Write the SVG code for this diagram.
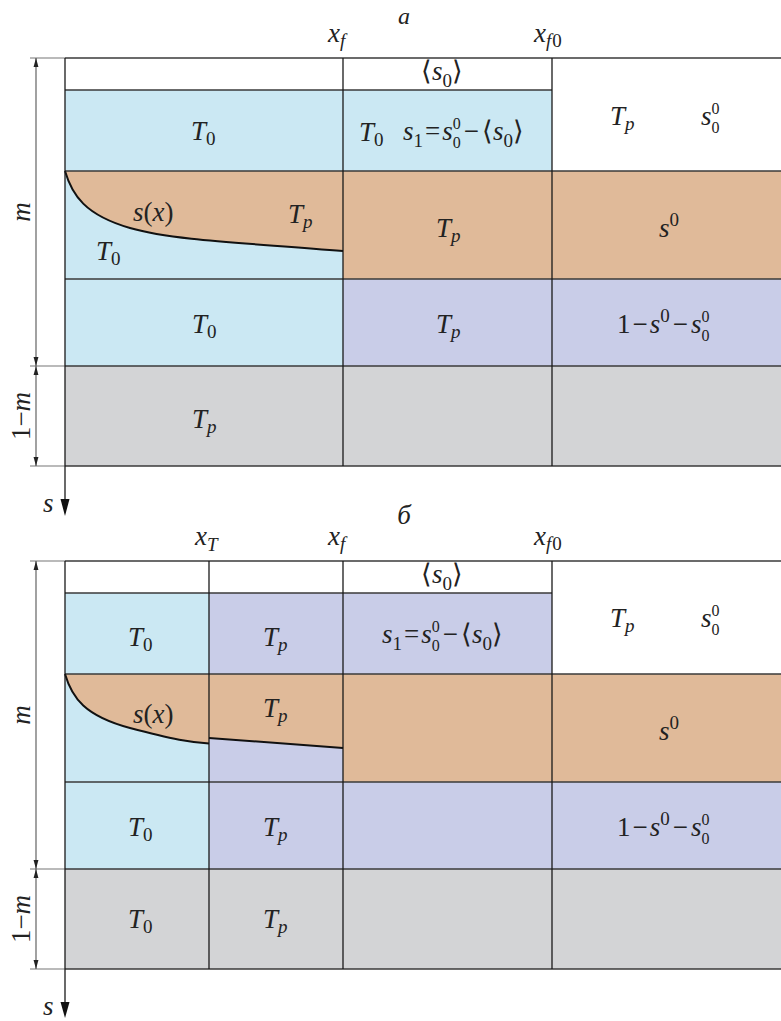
<svg xmlns="http://www.w3.org/2000/svg" width="781" height="1021" viewBox="0 0 781 1021">
<style>
.t{font-family:"Liberation Serif",serif;font-style:italic;font-size:27px;fill:#222}
.u{font-style:normal}
.sc{font-size:19px}
.ss{font-size:16px;font-style:normal}
.blue{fill:#CBE8F3}
.org{fill:#E0BA99}
.pur{fill:#C9CDE8}
.gry{fill:#D3D4D6}
.h{stroke:#3a3a3a;stroke-width:1.3;fill:none}
.ext{stroke:#777;stroke-width:1.2;fill:none}
.v{stroke:#1a1a1a;stroke-width:1.3;fill:none}
.dim{stroke:#555;stroke-width:1.1;fill:none;marker-start:url(#ah);marker-end:url(#ah)}
.crv{stroke:#111;stroke-width:2;fill:none}
</style>
<defs>
<marker id="ah" viewBox="0 0 10 10" refX="10" refY="5" markerWidth="9" markerHeight="9" markerUnits="userSpaceOnUse" orient="auto-start-reverse"><path d="M0,2.3 L10,5 L0,7.7 Z" fill="#222"/></marker>
</defs>

<!-- ================= PANEL A ================= -->
<g id="panel-a">
<g id="a-fills">
<rect class="blue" x="65" y="90" width="487" height="81"/>
<rect class="blue" x="65" y="171" width="278" height="108"/>
<path class="org" d="M65,171 C72,195 85,215 130,228 S250,243 343,251 L343,171 Z"/>
<rect class="org" x="343" y="171" width="438" height="108"/>
<rect class="blue" x="65" y="279" width="278" height="87"/>
<rect class="pur" x="343" y="279" width="438" height="87"/>
<rect class="gry" x="65" y="366" width="716" height="100"/>
</g>
<g id="a-grid">
<line class="ext" x1="30" y1="58" x2="65" y2="58"/>
<line class="h" x1="65" y1="58" x2="781" y2="58"/>
<line class="h" x1="65" y1="90" x2="552" y2="90"/>
<line class="h" x1="65" y1="171" x2="781" y2="171"/>
<line class="h" x1="65" y1="279" x2="781" y2="279"/>
<line class="ext" x1="30" y1="366" x2="65" y2="366"/>
<line class="h" x1="65" y1="366" x2="781" y2="366"/>
<line class="ext" x1="30" y1="466" x2="65" y2="466"/>
<line class="h" x1="65" y1="466" x2="781" y2="466"/>
<line class="v" x1="343" y1="58" x2="343" y2="466"/>
<line class="v" x1="552" y1="58" x2="552" y2="466"/>
</g>
<path id="a-curve" class="crv" d="M65,171 C72,195 85,215 130,228 S250,243 343,251"/>
<g id="a-connectors">
<line class="v" x1="65" y1="58" x2="65" y2="500"/>
<polygon points="60.5,499 69.5,499 65,516" fill="#111"/>
<line class="dim" x1="36" y1="58" x2="36" y2="366"/>
<line class="dim" x1="36" y1="366" x2="36" y2="466"/>
</g>
<g id="a-labels">
<text class="t" x="404" y="24" text-anchor="middle" style="font-size:24px">а</text>
<text class="t" x="328" y="42">x<tspan class="sc" dy="5">f</tspan></text>
<text class="t" x="534" y="42">x<tspan class="sc" dy="5">f</tspan><tspan class="sc u" dx="1">0</tspan></text>
<text class="t" transform="translate(30,212) rotate(-90)" text-anchor="middle">m</text>
<text class="t" transform="translate(30,416) rotate(-90)" text-anchor="middle"><tspan class="u">1−</tspan>m</text>
<text class="t" x="43" y="512">s</text>
</g>
<g id="a-node-s0mean"><text class="t" x="442" y="80" text-anchor="middle"><tspan class="u">⟨</tspan>s<tspan class="sc u" dy="7">0</tspan><tspan class="u" dy="-7">⟩</tspan></text></g>
<g id="a-node-T0-top"><text class="t" x="191" y="140">T<tspan class="sc u" dy="5">0</tspan></text></g>
<g id="a-node-T0-s1">
<text class="t" x="359" y="141">T<tspan class="sc u" dy="5">0</tspan></text>
<text class="t" x="403" y="140">s<tspan class="sc u" dy="7">1</tspan><tspan class="u" dx="2" dy="-7">=</tspan><tspan dx="2">s</tspan><tspan class="ss" dy="-11">0</tspan><tspan class="ss" dx="-8" dy="19">0</tspan><tspan class="u" dx="3" dy="-8">−</tspan><tspan class="u" dx="3">⟨</tspan>s<tspan class="sc u" dy="7">0</tspan><tspan class="u" dy="-7">⟩</tspan></text>
</g>
<g id="a-node-right-top">
<text class="t" x="610" y="125">T<tspan class="sc" dy="5">p</tspan></text>
<text class="t" x="701" y="125">s<tspan class="ss" dy="-11">0</tspan><tspan class="ss" dx="-8" dy="19">0</tspan></text>
</g>
<g id="a-node-front">
<text class="t" x="133" y="221">s<tspan class="u">(</tspan>x<tspan class="u">)</tspan></text>
<text class="t" x="288" y="223">T<tspan class="sc" dy="5">p</tspan></text>
<text class="t" x="96" y="260">T<tspan class="sc u" dy="5">0</tspan></text>
</g>
<g id="a-node-Tp-mid"><text class="t" x="436" y="237">T<tspan class="sc" dy="5">p</tspan></text></g>
<g id="a-node-s0-right"><text class="t" x="659" y="237">s<tspan class="sc u" dy="-11">0</tspan></text></g>
<g id="a-node-T0-row3"><text class="t" x="192" y="333">T<tspan class="sc u" dy="5">0</tspan></text></g>
<g id="a-node-Tp-row3"><text class="t" x="436" y="333">T<tspan class="sc" dy="5">p</tspan></text></g>
<g id="a-node-rest"><text class="t" x="617" y="333"><tspan class="u">1</tspan><tspan class="u" dx="2">−</tspan><tspan dx="2">s</tspan><tspan class="sc u" dy="-11">0</tspan><tspan class="u" dx="3" dy="11">−</tspan><tspan dx="3">s</tspan><tspan class="ss" dy="-11">0</tspan><tspan class="ss" dx="-8" dy="19">0</tspan></text></g>
<g id="a-node-Tp-gray"><text class="t" x="192" y="428">T<tspan class="sc" dy="5">p</tspan></text></g>
</g>

<!-- ================= PANEL B ================= -->
<g id="panel-b">
<g id="b-fills">
<rect class="blue" x="65" y="593" width="144" height="81"/>
<rect class="pur" x="209" y="593" width="343" height="81"/>
<rect class="blue" x="65" y="674" width="144" height="108"/>
<path class="org" d="M65,674 C72,698 85,716 130,728 S190,742 209,743.5 L209,674 Z"/>
<rect class="pur" x="209" y="674" width="134" height="108"/>
<path class="org" d="M209,674 L209,738 L343,748 L343,674 Z"/>
<rect class="org" x="343" y="674" width="438" height="108"/>
<rect class="blue" x="65" y="782" width="144" height="87"/>
<rect class="pur" x="209" y="782" width="572" height="87"/>
<rect class="gry" x="65" y="869" width="716" height="100"/>
</g>
<g id="b-grid">
<line class="ext" x1="30" y1="561" x2="65" y2="561"/>
<line class="h" x1="65" y1="561" x2="781" y2="561"/>
<line class="h" x1="65" y1="593" x2="552" y2="593"/>
<line class="h" x1="65" y1="674" x2="781" y2="674"/>
<line class="h" x1="65" y1="782" x2="781" y2="782"/>
<line class="ext" x1="30" y1="869" x2="65" y2="869"/>
<line class="h" x1="65" y1="869" x2="781" y2="869"/>
<line class="ext" x1="30" y1="969" x2="65" y2="969"/>
<line class="h" x1="65" y1="969" x2="781" y2="969"/>
<line class="v" x1="209" y1="561" x2="209" y2="969"/>
<line class="v" x1="343" y1="561" x2="343" y2="969"/>
<line class="v" x1="552" y1="561" x2="552" y2="969"/>
</g>
<path id="b-curve" class="crv" d="M65,674 C72,698 85,716 130,728 S190,742 209,743.5"/>
<path id="b-line" class="crv" d="M209,738 L343,748"/>
<g id="b-connectors">
<line class="v" x1="65" y1="561" x2="65" y2="1003"/>
<polygon points="60.5,1002 69.5,1002 65,1018" fill="#111"/>
<line class="dim" x1="36" y1="561" x2="36" y2="869"/>
<line class="dim" x1="36" y1="869" x2="36" y2="969"/>
</g>
<g id="b-labels">
<text class="t" x="404" y="524" text-anchor="middle">б</text>
<text class="t" x="195" y="545">x<tspan class="sc" dy="6">T</tspan></text>
<text class="t" x="328" y="545">x<tspan class="sc" dy="5">f</tspan></text>
<text class="t" x="534" y="545">x<tspan class="sc" dy="5">f</tspan><tspan class="sc u" dx="1">0</tspan></text>
<text class="t" transform="translate(30,715) rotate(-90)" text-anchor="middle">m</text>
<text class="t" transform="translate(30,919) rotate(-90)" text-anchor="middle"><tspan class="u">1−</tspan>m</text>
<text class="t" x="43" y="1015">s</text>
</g>
<g id="b-node-s0mean"><text class="t" x="442" y="583" text-anchor="middle"><tspan class="u">⟨</tspan>s<tspan class="sc u" dy="7">0</tspan><tspan class="u" dy="-7">⟩</tspan></text></g>
<g id="b-node-T0-top"><text class="t" x="128" y="646">T<tspan class="sc u" dy="5">0</tspan></text></g>
<g id="b-node-Tp-top"><text class="t" x="263" y="646">T<tspan class="sc" dy="5">p</tspan></text></g>
<g id="b-node-s1"><text class="t" x="382" y="643">s<tspan class="sc u" dy="7">1</tspan><tspan class="u" dx="2" dy="-7">=</tspan><tspan dx="2">s</tspan><tspan class="ss" dy="-11">0</tspan><tspan class="ss" dx="-8" dy="19">0</tspan><tspan class="u" dx="3" dy="-8">−</tspan><tspan class="u" dx="3">⟨</tspan>s<tspan class="sc u" dy="7">0</tspan><tspan class="u" dy="-7">⟩</tspan></text></g>
<g id="b-node-right-top">
<text class="t" x="610" y="627">T<tspan class="sc" dy="5">p</tspan></text>
<text class="t" x="701" y="627">s<tspan class="ss" dy="-11">0</tspan><tspan class="ss" dx="-8" dy="19">0</tspan></text>
</g>
<g id="b-node-front">
<text class="t" x="133" y="723">s<tspan class="u">(</tspan>x<tspan class="u">)</tspan></text>
<text class="t" x="263" y="717">T<tspan class="sc" dy="5">p</tspan></text>
</g>
<g id="b-node-s0-right"><text class="t" x="659" y="740">s<tspan class="sc u" dy="-11">0</tspan></text></g>
<g id="b-node-T0-row3"><text class="t" x="128" y="836">T<tspan class="sc u" dy="5">0</tspan></text></g>
<g id="b-node-Tp-row3"><text class="t" x="263" y="836">T<tspan class="sc" dy="5">p</tspan></text></g>
<g id="b-node-rest"><text class="t" x="617" y="836"><tspan class="u">1</tspan><tspan class="u" dx="2">−</tspan><tspan dx="2">s</tspan><tspan class="sc u" dy="-11">0</tspan><tspan class="u" dx="3" dy="11">−</tspan><tspan dx="3">s</tspan><tspan class="ss" dy="-11">0</tspan><tspan class="ss" dx="-8" dy="19">0</tspan></text></g>
<g id="b-node-T0-gray"><text class="t" x="128" y="928">T<tspan class="sc u" dy="5">0</tspan></text></g>
<g id="b-node-Tp-gray"><text class="t" x="263" y="928">T<tspan class="sc" dy="5">p</tspan></text></g>
</g>
</svg>
